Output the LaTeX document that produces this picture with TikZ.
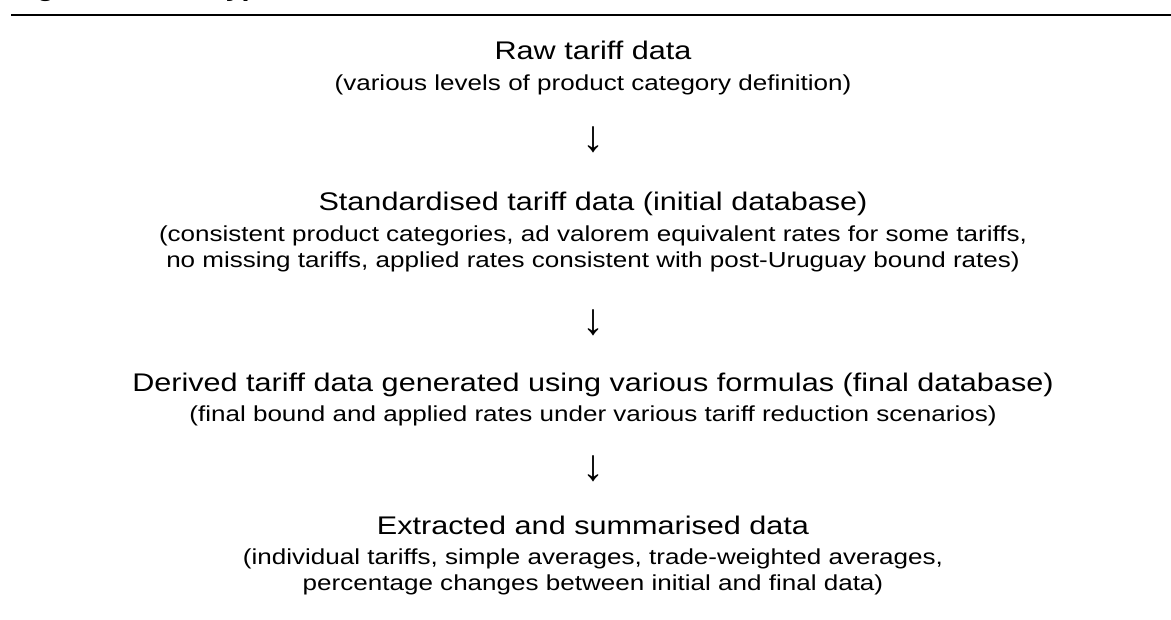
\documentclass[tikz,border=0pt]{standalone}
\usepackage{fontspec}
\setmainfont{Liberation Sans}
\newfontfamily\widesans[FakeStretch=1.2]{Liberation Sans}
\begin{document}
\begin{tikzpicture}[x=1pt,y=-1pt,
  bigtxt/.style={anchor=base,inner sep=0pt,font=\widesans\fontsize{25.5}{29}\selectfont},
  smalltxt/.style={anchor=base,inner sep=0pt,font=\widesans\fontsize{21.7}{25}\selectfont},
  titletxt/.style={anchor=base west,inner sep=0pt,font=\widesans\bfseries\fontsize{24}{28}\selectfont},
  arrowtxt/.style={anchor=center,inner sep=0pt,font=\fontsize{44}{46}\selectfont}]
\useasboundingbox (0,0) rectangle (1171,620);
\begin{scope}
  \clip (0,0) rectangle (1171,6);
  \node[titletxt] (figlabel) at (11,-3) {Figure};
  \node[titletxt] (figtitle) at (210,-3) {Types of tariff data};
\end{scope}
\draw[line width=2pt] (11,15) -- (1171,15);
\def\cx{593}
\node[bigtxt] (raw) at (\cx,60) {Raw tariff data};
\node[smalltxt] (rawsub) at (\cx,91) {(various levels of product category definition)};
\node[arrowtxt] (a1) at (\cx,140) {↓};
\node[bigtxt] (std) at (\cx,211) {Standardised tariff data (initial database)};
\node[smalltxt] (stdsub1) at (\cx,242) {(consistent product categories, ad valorem equivalent rates for some tariffs,};
\node[smalltxt] (stdsub2) at (\cx,268) {no missing tariffs, applied rates consistent with post-Uruguay bound rates)};
\node[arrowtxt] (a2) at (\cx,323) {↓};
\node[bigtxt] (der) at (\cx,392) {Derived tariff data generated using various formulas (final database)};
\node[smalltxt] (dersub) at (\cx,422) {(final bound and applied rates under various tariff reduction scenarios)};
\node[arrowtxt] (a3) at (\cx,469) {↓};
\node[bigtxt] (ext) at (\cx,534) {Extracted and summarised data};
\node[smalltxt] (extsub1) at (\cx,564) {(individual tariffs, simple averages, trade-weighted averages,};
\node[smalltxt] (extsub2) at (\cx,590) {percentage changes between initial and final data)};
\end{tikzpicture}
\end{document}
